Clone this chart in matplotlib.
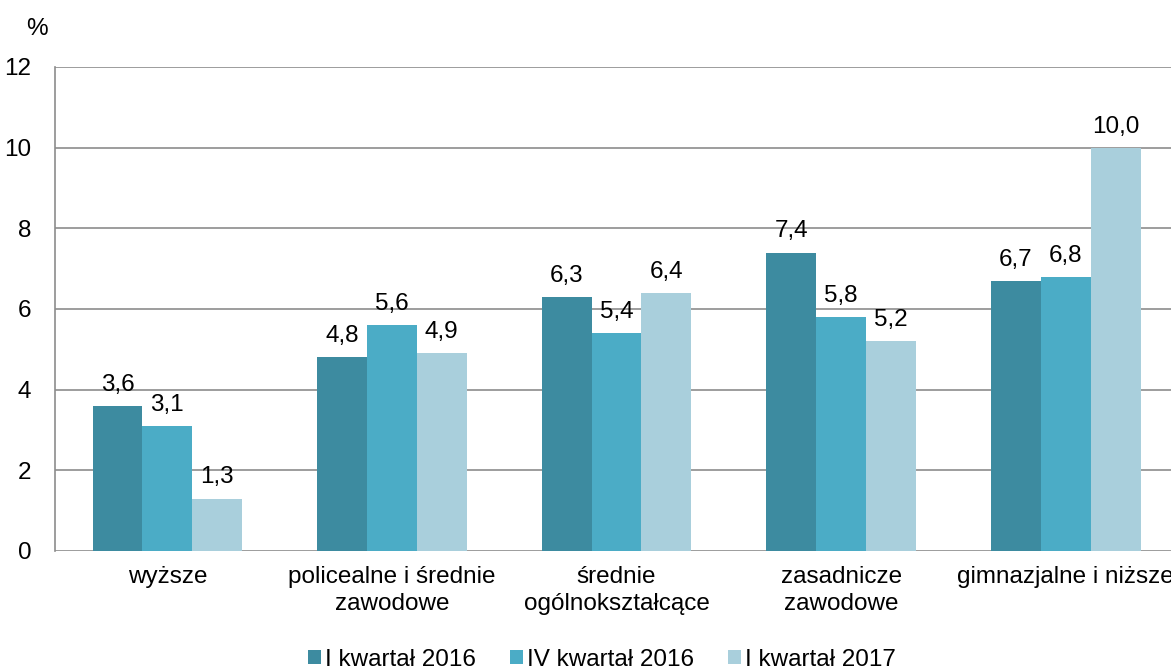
import matplotlib.pyplot as plt
import numpy as np

plt.rcParams['font.family'] = ['Liberation Sans', 'DejaVu Sans']

categories = ["wyższe", "policealne i średnie\nzawodowe", "średnie\nogólnokształcące",
              "zasadnicze\nzawodowe", "gimnazjalne i niższe"]
series = ["I kwartał 2016", "IV kwartał 2016", "I kwartał 2017"]
q1_2016 = [3.6, 4.8, 6.3, 7.4, 6.7]
q4_2016 = [3.1, 5.6, 5.4, 5.8, 6.8]
q1_2017 = [1.3, 4.9, 6.4, 5.2, 10.0]
colors = ["#3d8ba0", "#4bacc6", "#a9cfdc"]

fs = 17.5
fig = plt.figure(figsize=(11.71, 6.69), dpi=100)
ax = fig.add_axes([0.047, 0.1764, 0.959, 0.7235])

x = np.arange(len(categories))
w = 0.222
for i, (vals, name) in enumerate(zip([q1_2016, q4_2016, q1_2017], series)):
    bars = ax.bar(x + (i - 1) * w, vals, w, color=colors[i], label=name, zorder=3)
    for b, v in zip(bars, vals):
        ax.text(b.get_x() + b.get_width() / 2, v + 0.25, f"{v:.1f}".replace(".", ","),
                ha="center", va="bottom", fontsize=fs)

ax.set_xlim(-0.5, 4.5)
ax.set_ylim(0, 12)
ax.set_yticks(range(0, 13, 2))
ax.set_xticks(x)
ax.set_xticklabels(categories, fontsize=fs, linespacing=1.25)
ax.tick_params(axis="y", labelsize=fs, length=0, pad=17)
ax.tick_params(axis="x", length=0, pad=11)
ax.grid(axis="y", color="#8c8c8c", linewidth=1.2, zorder=0)
for s in ["top", "right", "bottom"]:
    ax.spines[s].set_visible(False)
ax.spines["left"].set_color("#8c8c8c")
ax.spines["left"].set_linewidth(1.2)

fig.text(0.022, 0.947, "%", fontsize=fs)

fig.legend(loc="lower center", bbox_to_anchor=(0.514, -0.035), ncol=3, frameon=False,
           fontsize=fs, handlelength=0.55, handleheight=0.55, handletextpad=0.15,
           columnspacing=1.4)

fig.savefig("out.png", dpi=100)
